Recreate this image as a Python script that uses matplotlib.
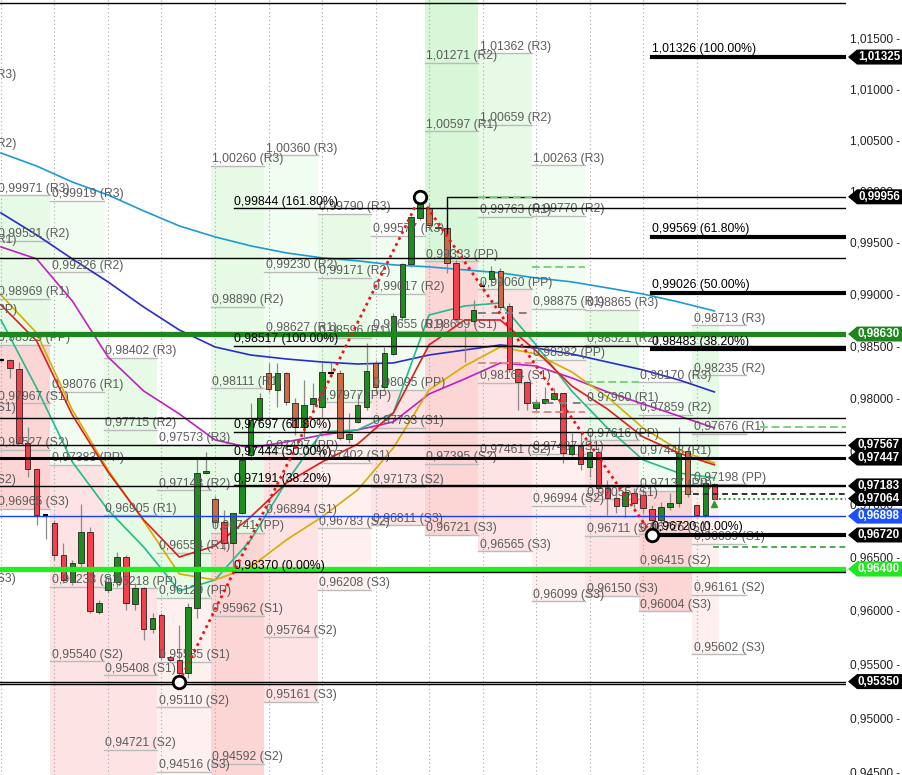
import matplotlib
matplotlib.use("Agg")
import matplotlib.pyplot as plt
from matplotlib.patches import Polygon
from matplotlib.ticker import NullLocator
from matplotlib.transforms import IdentityTransform

plt.rcParams['font.family'] = ['Liberation Sans', 'DejaVu Sans']

# ---- 4h candles ----
opens = [0.98381, 0.98381, 0.98295, 0.97590, 0.97344, 0.96909, 0.96833, 0.96532, 0.96279, 0.96457,
         0.96748, 0.95998, 0.96204, 0.96279, 0.96513, 0.96073, 0.96223, 0.95840, 0.95970, 0.95578,
         0.95550, 0.95429, 0.96036, 0.97306, 0.97060, 0.96843, 0.96645, 0.96927, 0.97476, 0.97809,
         0.98257, 0.98095, 0.98257, 0.97970, 0.97742, 0.97961, 0.97932, 0.98257, 0.98257, 0.97628,
         0.97790, 0.97932, 0.98353, 0.98123, 0.98439, 0.98794, 0.99306, 0.99751, 0.99848, 0.99664,
         0.99654, 0.99315, 0.98609, 0.98756, 0.99094, 0.99160, 0.99238, 0.98900, 0.98295, 0.98171,
         0.97923, 0.97970, 0.98009, 0.98066, 0.97486, 0.97562, 0.97363, 0.97505, 0.97164, 0.97069,
         0.96993, 0.97116, 0.97097, 0.96965, 0.96862, 0.96984, 0.97022, 0.97514, 0.97003, 0.96909,
         0.97202]
highs = [0.98400, 0.98390, 0.98362, 0.97742, 0.97350, 0.96920, 0.96860, 0.96645, 0.96485, 0.97012,
         0.96796, 0.96110, 0.96317, 0.96560, 0.96530, 0.96270, 0.96230, 0.95989, 0.95989, 0.95590,
         0.95877, 0.96082, 0.97457, 0.97505, 0.97090, 0.96956, 0.96930, 0.97457, 0.97970, 0.98066,
         0.98353, 0.98353, 0.98270, 0.98018, 0.98190, 0.98160, 0.98353, 0.98353, 0.98286, 0.97875,
         0.98066, 0.98544, 0.98381, 0.98506, 0.98833, 0.99316, 0.99765, 0.99956, 0.99896, 0.99683,
         0.99683, 0.99340, 0.98686, 0.98958, 0.99140, 0.99287, 0.99267, 0.98930, 0.98300, 0.98180,
         0.98009, 0.98123, 0.98114, 0.98070, 0.97685, 0.97685, 0.97685, 0.97552, 0.97240, 0.97145,
         0.97173, 0.97164, 0.97164, 0.97003, 0.97031, 0.97116, 0.97742, 0.97552, 0.97003, 0.97259,
         0.97207]
lows = [0.98360, 0.98209, 0.97580, 0.97268, 0.96814, 0.96683, 0.96485, 0.96270, 0.96250, 0.96420,
        0.95989, 0.95980, 0.96176, 0.96232, 0.96017, 0.96017, 0.95737, 0.95802, 0.95550, 0.95530,
        0.95350, 0.95383, 0.95942, 0.97300, 0.96796, 0.96579, 0.96420, 0.96920, 0.97429, 0.97790,
        0.98075, 0.97932, 0.97950, 0.97666, 0.97620, 0.97904, 0.97837, 0.98220, 0.97620, 0.97590,
        0.97780, 0.97904, 0.98066, 0.98094, 0.98430, 0.98765, 0.99277, 0.99732, 0.99635, 0.99630,
        0.99219, 0.98746, 0.98362, 0.98717, 0.99050, 0.99093, 0.98861, 0.98267, 0.97904, 0.97904,
        0.97894, 0.97960, 0.98000, 0.97401, 0.97467, 0.97334, 0.97268, 0.97079, 0.96909, 0.96927,
        0.96890, 0.96975, 0.96927, 0.96720, 0.96824, 0.96956, 0.96984, 0.97079, 0.96900, 0.96890,
        0.97050]
closes = [0.98381, 0.98305, 0.97590, 0.97344, 0.96909, 0.96909, 0.96532, 0.96298, 0.96457, 0.96748,
          0.96008, 0.96082, 0.96279, 0.96513, 0.96082, 0.96223, 0.95840, 0.95942, 0.95578, 0.95550,
          0.95429, 0.96045, 0.97306, 0.97325, 0.96843, 0.96645, 0.96927, 0.97429, 0.97809, 0.98018,
          0.98104, 0.98257, 0.97980, 0.97742, 0.97951, 0.98018, 0.98267, 0.98257, 0.97638, 0.97676,
          0.97951, 0.98276, 0.98123, 0.98448, 0.98804, 0.99306, 0.99761, 0.99935, 0.99683, 0.99654,
          0.99315, 0.98775, 0.98628, 0.98862, 0.99094, 0.99238, 0.98890, 0.98295, 0.98171, 0.97970,
          0.97980, 0.98009, 0.98066, 0.97495, 0.97562, 0.97391, 0.97505, 0.97164, 0.97069, 0.96993,
          0.97126, 0.97022, 0.96975, 0.96862, 0.96984, 0.97022, 0.97495, 0.97107, 0.96909, 0.97211,
          0.97064]
# g = up, r = down, b = down (brown shade), k = doji
kinds = ("krrrrkrrgg" "rgggrgrgrr" "rgggbrgggg" "bgbbgggkbg" "ggbgggggbb"
         "brggkgbrrr" "gggrgrgrrr" "grrrgggbrg" "r")

# ---- moving averages, sampled every 4 candles ----
ma_idx = list(range(0, 81, 4))
ma_sky = [1.00383, 1.00256, 1.00100, 0.99974, 0.99819, 0.99673, 0.99567, 0.99480, 0.99412, 0.99364, 0.99335,
          0.99296, 0.99277, 0.99248, 0.99219, 0.99170, 0.99132, 0.99074, 0.99015, 0.98938, 0.98852]
ma_blue = [0.99799, 0.99586, 0.99354, 0.99132, 0.98890, 0.98669, 0.98506, 0.98429, 0.98391, 0.98362, 0.98343,
           0.98353, 0.98429, 0.98477, 0.98525, 0.98496, 0.98439, 0.98362, 0.98286, 0.98191, 0.98076]
ma_magenta = [0.99470, 0.99354, 0.98948, 0.98410, 0.98085, 0.97866, 0.97619, 0.97543, 0.97600, 0.97666, 0.97714,
              0.97790, 0.98056, 0.98200, 0.98353, 0.98324, 0.98210, 0.98076, 0.97961, 0.97847, 0.97733]
ma_red = [0.98910, 0.98564, 0.97856, 0.97315, 0.96862, 0.96513, 0.96617, 0.96890, 0.97211, 0.97410, 0.97580,
          0.97875, 0.98525, 0.98765, 0.98765, 0.98468, 0.98133, 0.97913, 0.97647, 0.97495, 0.97382]
ma_gold = [0.99006, 0.98640, 0.97904, 0.97334, 0.96852, 0.96354, 0.96298, 0.96420, 0.96673, 0.96890, 0.97145,
           0.97543, 0.98095, 0.98324, 0.98506, 0.98439, 0.98267, 0.98028, 0.97733, 0.97524, 0.97400]
ma_teal = [0.98765, 0.98114, 0.97410, 0.96956, 0.96607, 0.96195, 0.96298, 0.96673, 0.97221, 0.97695, 0.97714,
           0.97875, 0.98813, 0.98900, 0.98929, 0.98525, 0.98085, 0.97733, 0.97429, 0.97306, 0.97258]

# ---- daily pivots, days -1 .. 13 ----
days = list(range(-1, 14))
r3 = [1.01084, 0.99971, 0.99919, 0.98402, 0.97573, 1.00260, 1.00360, 0.99790, 0.99577, 1.02535, 1.01362, 1.00263, 0.98865, 0.98170, 0.98713]
r2 = [1.00408, 0.99531, 0.99226, 0.97715, 0.97143, 0.98890, 0.99230, 0.99171, 0.99017, 1.01271, 1.00659, 0.99770, 0.98521, 0.97859, 0.98235]
r1 = [0.99470, 0.98969, 0.98076, 0.96905, 0.96554, 0.98111, 0.98627, 0.98596, 0.98655, 1.00597, 0.99763, 0.98875, 0.97960, 0.97448, 0.97676]
pp = [0.98794, 0.98529, 0.97383, 0.96218, 0.96129, 0.96741, 0.97497, 0.97977, 0.98095, 0.99333, 0.99060, 0.98382, 0.97616, 0.97137, 0.97198]
s1 = [0.97856, 0.97967, 0.96233, 0.95408, 0.95535, 0.95962, 0.96894, 0.97402, 0.97733, 0.98659, 0.98164, 0.97487, 0.97055, 0.96726, 0.96639]
s2 = [0.97180, 0.97527, 0.95540, 0.94721, 0.95110, 0.94592, 0.95764, 0.96783, 0.97173, 0.97395, 0.97461, 0.96994, 0.96711, 0.96415, 0.96161]
s3 = [0.96242, 0.96965, 0.94390, 0.93911, 0.94516, 0.93813, 0.95161, 0.96208, 0.96811, 0.96721, 0.96565, 0.96099, 0.96150, 0.96004, 0.95602]

# ---- fibonacci sets ----
fib1 = [0.99844, 0.98517, 0.97697, 0.97444, 0.97191, 0.96370]
fib1_pct = ['161.80%', '100.00%', '61.80%', '50.00%', '38.20%', '0.00%']
fib2 = [1.01326, 0.99569, 0.99026, 0.98483, 0.96720]
fib2_pct = ['100.00%', '61.80%', '50.00%', '38.20%', '0.00%']

# zigzag swing points (candle index, price)
zz_idx = [20, 47, 73]
zz_px = [0.95350, 0.99956, 0.96720]

# horizontal levels across the chart
thin_levels = [0.99367, 0.97828, 0.97567, 0.97183, 0.95350, 0.95330]
thick_level = 0.97447
green_dark_level = 0.98630
green_bright_level = 0.96400
blue_level = 0.96898

# price tags on the right
tag_vals = [1.01325, 0.99956, 0.98630, 0.97567, 0.97447, 0.97183, 0.97064, 0.96898, 0.96720, 0.96400, 0.95350]
tag_cols = ['k', 'k', '#1f861f', 'k', 'k', 'k', 'k', '#1a50ff', 'k', '#22e622', 'k']
axis_ticks = [0.945, 0.950, 0.955, 0.960, 0.965, 0.970, 0.975, 0.980, 0.985, 0.990, 0.995, 1.000, 1.005, 1.010, 1.015]

# short dashed markers (x0, x1, price, colour, style)
marks = [
    (53.5, 59.5, 0.99956, '#7ed07e', (0, (4, 2))),
    (59.5, 65.5, 0.99277, '#7ed07e', (0, (4, 2))),
    (65.5, 71.6, 0.98171, '#7ed07e', (0, (4, 2))),
    (85.1, 94.8, 0.97742, '#7ed07e', (0, (4, 2))),
    (79.8, 94.8, 0.96608, '#4caf4c', (0, (3, 2))),
    (53.5, 59.5, 0.98834, '#808080', (0, (4, 3))),
    (59.5, 65.5, 0.97967, '#808080', (0, (4, 3))),
    (53.5, 59.5, 0.98353, '#e38a8a', (0, (4, 2))),
    (59.5, 65.5, 0.97885, '#e38a8a', (0, (4, 2))),
    (77.6, 94.8, 0.97110, '#333333', (0, (3, 2))),
    (80.0, 94.8, 0.97064, '#2a9a2a', (0, (1, 1.5))),
]

W, H = 903, 775
XL, XR = -0.11, 94.76
YBOT, YTOP = 0.94487, 1.01889


def fmt(v):
    return f"{v:.5f}".replace('.', ',')


fig = plt.figure(figsize=(W / 100, H / 100), dpi=100)
ax = fig.add_axes([0, 0, 846 / W, 1])
ax.set_yscale('log')
ax.set_ylim(YBOT, YTOP)
ax.set_xlim(XL, XR)
for s in ax.spines.values():
    s.set_visible(False)
ax.yaxis.set_major_locator(NullLocator())
ax.yaxis.set_minor_locator(NullLocator())
ax.xaxis.set_major_locator(NullLocator())
ax.tick_params(which='both', left=False, bottom=False, labelleft=False, labelbottom=False)

# pivot zones
G = ['#f2fdf2', '#e6fae6', '#d8f6d8']
R = ['#fff0f0', '#fde3e3', '#fcd5d5']
shade_g = [0, 1, 0, 1, 1, 1, 0, 1, 0, 2, 1, 0, 1, 0, 1]
shade_r = [0, 2, 1, 1, 0, 2, 1, 0, 1, 2, 1, 0, 1, 2, 0]
for k, d in enumerate(days):
    x0 = 6 * d - 0.5
    x1 = min(x0 + 6, len(closes) - 0.5)
    if x1 <= XL:
        continue
    ax.fill_between([x0, x1], pp[k], min(r3[k], YTOP), color=G[shade_g[k]], lw=0, zorder=0)
    ax.fill_between([x0, x1], max(s3[k], YBOT), pp[k], color=R[shade_r[k]], lw=0, zorder=0)

for d in range(0, 14):
    ax.axvline(6 * d, color='#a8a8a8', lw=0.8, ls=(0, (1, 2.5)), zorder=0.5)

# pivot labels
names = ['R3', 'R2', 'R1', 'PP', 'S1', 'S2', 'S3']
for k, d in enumerate(days):
    x0 = 6 * d - 0.5
    for name, lev in zip(names, (r3[k], r2[k], r1[k], pp[k], s1[k], s2[k], s3[k])):
        if not (YBOT < lev < YTOP):
            continue
        ax.plot([x0, x0 + 6], [lev, lev], color='#bbbbbb', lw=1, zorder=1)
        ax.annotate(f"{fmt(lev)} ({name})", (x0, lev), xytext=(1.5, 0.5), textcoords='offset pixels',
                    fontsize=8.8, color='#5c5c5c', va='bottom', ha='left', zorder=4.5,
                    annotation_clip=False)

# moving averages
for vals, col in [(ma_sky, '#1d9ad6'), (ma_blue, '#2a2ad2'), (ma_magenta, '#c21fc2'),
                  (ma_teal, '#22bb8c'), (ma_gold, '#d6ad00'), (ma_red, '#e31b1b')]:
    ax.plot(ma_idx, vals, color=col, lw=1.2, zorder=3)

# candles
body_col = {'g': '#1e8c1e', 'r': '#f2404c', 'b': '#cc6a45'}
for j in range(len(closes)):
    ax.vlines(j, lows[j], highs[j], color='#8a8a8a', lw=0.9, zorder=3.5)
    kd = kinds[j]
    if kd == 'k':
        ax.hlines(closes[j], j - 0.3, j + 0.3, color='black', lw=1.5, zorder=4)
        continue
    lo, hi = min(opens[j], closes[j]), max(opens[j], closes[j])
    ax.bar(j, hi - lo, bottom=lo, width=0.62, color=body_col[kd], edgecolor='#222222', lw=0.6, zorder=4)

# horizontal levels
for lev in thin_levels:
    ax.axhline(lev, color='black', lw=1, zorder=5)
ax.axhline(thick_level, color='black', lw=2.2, zorder=5)
ax.axhline(green_dark_level, color='#1f861f', lw=3.8, zorder=5)
ax.axhline(green_bright_level, color='#22ee22', lw=3.8, zorder=5)
ax.axhline(blue_level, color='#1a3cff', lw=1, zorder=5)
ax.axhline(1.01864, color='black', lw=1, zorder=5)
ax.plot([50, 50, XR], [0.99607, 0.99956, 0.99956], color='black', lw=1, zorder=5)

for x0, x1, lev, col, ls in marks:
    ax.plot([x0, x1], [lev, lev], color=col, lw=1.4, ls=ls, zorder=5)

# fibonacci levels
f1x, f2x = 26.1, 73.0
for lev, pct in zip(fib1, fib1_pct):
    ax.plot([f1x, XR], [lev, lev], color='black', lw=1, zorder=5)
    ax.annotate(f"{fmt(lev)} ({pct})", (f1x, lev), xytext=(0.5, 0.5), textcoords='offset pixels',
                fontsize=8.8, color='black', va='bottom', ha='left', zorder=6)
for lev, pct in zip(fib2, fib2_pct):
    ax.plot([f2x, XR], [lev, lev], color='black', lw=3, zorder=5)
    ax.annotate(f"{fmt(lev)} ({pct})", (f2x, lev), xytext=(0.5, 1.5), textcoords='offset pixels',
                fontsize=8.8, color='black', va='bottom', ha='left', zorder=6)

# zigzag
ax.plot(zz_idx, zz_px, color='#ee1515', lw=2, ls=(0, (1, 1.4)), zorder=6)
ax.plot(zz_idx, zz_px, 'o', ms=9, mfc='white', mec='black', mew=2, zorder=7)
ax.plot(80, 0.97010, marker='^', color='#2a9a2a', ms=5, zorder=7)

# right axis labels
ytr = ax.get_yaxis_transform()
for v in axis_ticks:
    ax.text(900 / 846, v, f"{fmt(v)} -", transform=ytr, ha='right', va='center', fontsize=8.6,
            color='#222222', clip_on=False)

# price tags
ident = IdentityTransform()
for v, c in zip(tag_vals, tag_cols):
    yp = ax.transData.transform((0, v))[1]
    poly = Polygon([(848, yp), (857, yp + 7.5), (903, yp + 7.5), (903, yp - 7.5), (857, yp - 7.5)],
                   closed=True, facecolor=c, edgecolor='none', transform=ident, zorder=10)
    fig.add_artist(poly)
    fig.text(879, yp, fmt(v), transform=ident, ha='center', va='center', fontsize=8.4,
             fontweight='bold', color='white', zorder=11)

fig.savefig('out.png', dpi=100, facecolor='white')
